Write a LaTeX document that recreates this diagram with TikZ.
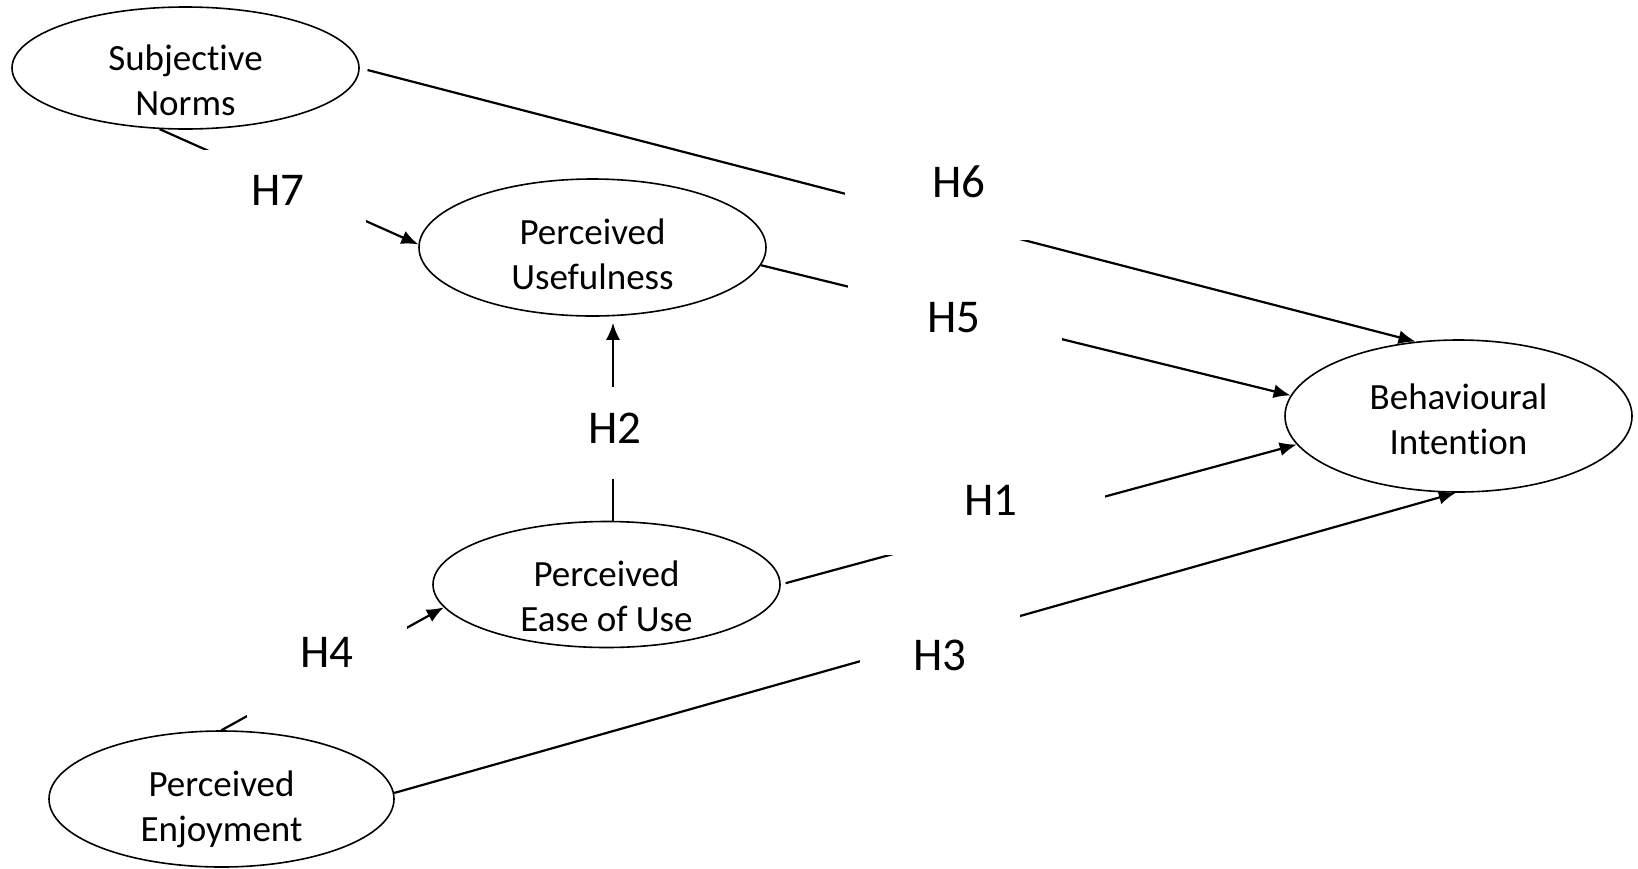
\documentclass[tikz,border=0pt]{standalone}
\usepackage{fontspec}
\setmainfont{Carlito}[Ligatures=NoCommon]
\usetikzlibrary{arrows.meta,shapes.geometric}
\begin{document}
\begin{tikzpicture}[x=1pt,y=-1pt,
  ell/.style={draw, line width=1.6pt, ellipse, inner sep=0pt},
  etxt/.style={align=center, font=\fontsize{37}{45}\selectfont, inner sep=0pt},
  gapbox/.style={fill=white, inner sep=0pt},
  hlab/.style={font=\fontsize{47}{56}\selectfont, inner sep=0pt},
  conn/.style={line width=2.2pt},
  arr/.style={conn, -{Latex[length=17pt,width=14pt]}}]
\useasboundingbox[fill=white] (0,0) rectangle (1638,868);

% ellipses
\node[ell, minimum width=347pt, minimum height=122pt] (SN) at (185.5,68) {};
\node[ell, minimum width=347pt, minimum height=137pt] (PU) at (592.5,247.5) {};
\node[ell, minimum width=347pt, minimum height=152pt] (BI) at (1458.5,416) {};
\node[ell, minimum width=347pt, minimum height=126pt] (PEOU) at (606.5,584.5) {};
\node[ell, minimum width=345pt, minimum height=136pt] (PE) at (221.5,799) {};

\node[etxt] (tSN) at (185.5,80) {Subjective\\Norms};
\node[etxt] (tPU) at (592.5,254) {Perceived\\Usefulness};
\node[etxt] (tBI) at (1458.5,419) {Behavioural\\Intention};
\node[etxt] (tPEOU) at (606.5,596) {Perceived\\Ease of Use};
\node[etxt] (tPE) at (221.5,809) {Perceived\\Enjoyment};

% connectors
\coordinate (c2) at ([xshift=6.5pt]PEOU.north);
\draw[arr, shorten <=8pt] (SN.east) -- (BI.120);
\draw[arr] (SN.247) -- (PU.179);
\draw[arr] (PU.-6) -- (BI.173);
\draw[arr, shorten >=6pt] (c2) -- (c2 |- PU.south);
\draw[arr, shorten <=5pt] (PEOU.east) -- (BI.190);
\draw[arr] (PE.2) -- (BI.268);
\draw[arr] (PE.north) -- (PEOU.188);

% label boxes
\node[gapbox, minimum width=176pt, minimum height=98pt] (g7) at (278,199) {};
\node[gapbox, minimum width=227pt, minimum height=98pt] (g6) at (958.5,191) {};
\node[gapbox, minimum width=214pt, minimum height=98pt] (g5) at (955,326) {};
\node[gapbox, minimum width=228pt, minimum height=95pt] (g1) at (991,507.5) {};
\node[gapbox, minimum width=160pt, minimum height=98pt] (g3) at (940,664) {};
\node[gapbox, minimum width=160pt, minimum height=129pt] (g4) at (327,652.5) {};
\node[gapbox, minimum width=160pt, minimum height=92pt] (g2) at (614,433) {};

\node[hlab] (h7) at (278,190) {H7};
\node[hlab] (h6) at (959,182) {H6};
\node[hlab] (h5) at (954,318) {H5};
\node[hlab] (h1) at (991,500) {H1};
\node[hlab] (h3) at (940,655) {H3};
\node[hlab] (h4) at (327,652) {H4};
\node[hlab] (h2) at (615,428) {H2};
\end{tikzpicture}
\end{document}
